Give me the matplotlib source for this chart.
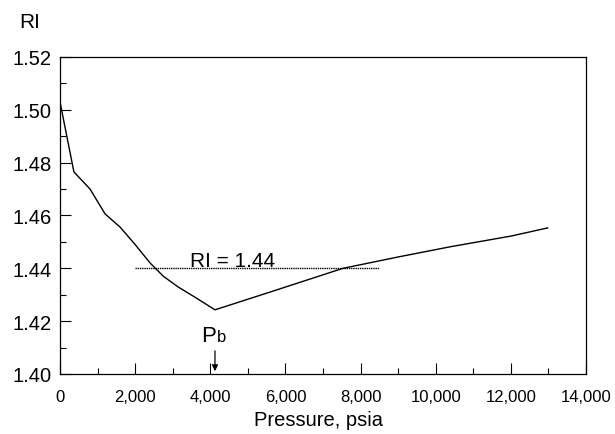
import numpy as np
import matplotlib.pyplot as plt
from matplotlib.ticker import MultipleLocator, FuncFormatter

plt.rcParams['font.family'] = ['Liberation Sans', 'DejaVu Sans']

pressure = [0, 370, 800, 1200, 1600, 2000, 2400, 2750, 3150, 3600, 4125, 5500, 7530, 9000, 10400, 12000, 12980]
ri = [1.503, 1.4765, 1.470, 1.4606, 1.4556, 1.4490, 1.4420, 1.4370, 1.4329, 1.4290, 1.4243, 1.4306, 1.4400, 1.4443, 1.4482, 1.4522, 1.4553]

ref_x = [2000, 8500]
ref_ri = 1.44
pb = 4125

fig = plt.figure(figsize=(6.15, 4.35), dpi=100)
ax = fig.add_axes([60 / 615, 60 / 435, 526 / 615, 317 / 435])

ax.plot(pressure, ri, color='black', lw=1.0)
ax.plot(ref_x, [ref_ri, ref_ri], color='black', lw=1.0, ls=(0, (1, 0.6)))
ax.text(3460, 1.4407, "RI = 1.44", fontsize=15, ha='left', va='baseline')

# bubble point marker
ax.annotate("", xy=(pb, 1.40), xytext=(pb, 1.4098),
            arrowprops=dict(arrowstyle='-|>', color='black', lw=0.9, mutation_scale=9))
ax.text(pb + 40, 1.4125, "P", fontsize=16, ha='right', va='baseline')
ax.text(pb + 40, 1.4125, "b", fontsize=12, ha='left', va='baseline')

ax.set_xlim(0, 14000)
ax.set_ylim(1.40, 1.52)
ax.xaxis.set_major_locator(MultipleLocator(2000))
ax.xaxis.set_minor_locator(MultipleLocator(1000))
ax.yaxis.set_major_locator(MultipleLocator(0.02))
ax.yaxis.set_minor_locator(MultipleLocator(0.01))
ax.xaxis.set_major_formatter(FuncFormatter(lambda v, p: f"{int(v):,}"))
ax.yaxis.set_major_formatter(FuncFormatter(lambda v, p: f"{v:.2f}"))
ax.tick_params(which='both', direction='in', top=False, right=False)
ax.tick_params(which='major', length=8, width=0.8)
ax.tick_params(which='minor', length=4, width=0.8)
ax.tick_params(axis='x', pad=11, labelsize=12)
ax.tick_params(axis='y', pad=6, labelsize=14.5)
for s in ax.spines.values():
    s.set_linewidth(0.9)

fig.text((60 + 259) / 615, 1 - 421 / 435, "Pressure, psia", fontsize=14.5, ha='center', va='center')
fig.text(19 / 615, 1 - 23 / 435, "RI", fontsize=15, ha='left', va='center')

fig.savefig("out.png", dpi=100)
